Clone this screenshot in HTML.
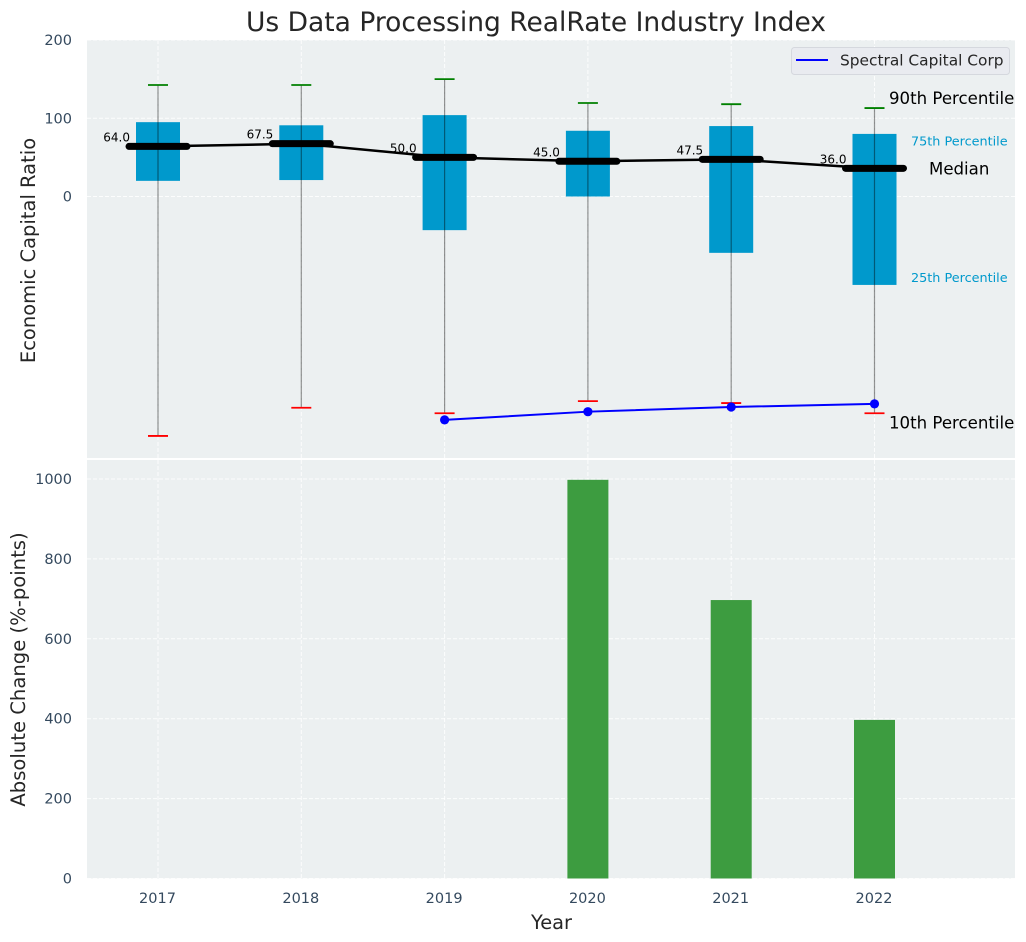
<!DOCTYPE html>
<html>
<head>
<meta charset="utf-8">
<title>Us Data Processing RealRate Industry Index</title>
<style>
html,body{margin:0;padding:0;background:#fff;width:1026px;height:942px;overflow:hidden}
svg{display:block}
text{font-family:"DejaVu Sans","Liberation Sans",sans-serif}
</style>
</head>
<body>
<svg id="chart" xmlns="http://www.w3.org/2000/svg" width="1026" height="942" viewBox="0 0 1026 942"></svg>
<script>
const years = [2017, 2018, 2019, 2020, 2021, 2022];
const p90 = [142.5, 142.5, 150, 119.5, 118, 113];
const p75 = [95, 91, 104, 84, 90, 80];
const medians = [64, 67.5, 50, 45, 47.5, 36];
const p25 = [20, 21, -43, 0, -72, -113];
const p10 = [-306, -270, -277, -261.5, -264, -277];
const companyYears = [2019, 2020, 2021, 2022];
const companyValues = [-285.5, -275, -269, -265];
const changeYears = [2020, 2021, 2022];
const changeValues = [998, 697, 397];
const topTicks = [0, 100, 200];
const bottomTicks = [0, 200, 400, 600, 800, 1000];

const NS = 'http://www.w3.org/2000/svg';
const svg = document.getElementById('chart');
const L = 87, R = 1015, T1 = 40, B1 = 458, T2 = 460, B2 = 878.5;
const x = v => 158 + (v - 2017) * 143.3;
const yTop = v => 196.5 - v * 0.7825;
const yBot = v => 878.5 - v * 0.3995;

function make(tag, attrs, txt) {
  const e = document.createElementNS(NS, tag);
  for (const k in attrs) e.setAttribute(k, attrs[k]);
  if (txt !== undefined) e.textContent = txt;
  svg.appendChild(e);
  return e;
}
function named(e, name, inter) {
  
  
  return e;
}
const GRID = {stroke: '#ffffff', 'stroke-width': 1, 'stroke-dasharray': '4 2', 'stroke-opacity': 0.85};
const TICK = '#34495e';
const TICK_SIZE = 14.5;

named(make('rect', {x: L, y: T1, width: R - L, height: B1 - T1, fill: '#ecf0f1'}), 'top-panel-background');
named(make('rect', {x: L, y: T2, width: R - L, height: B2 - T2, fill: '#ecf0f1'}), 'bottom-panel-background');

topTicks.forEach(t => {
  const g = make('line', Object.assign({x1: L, x2: R, y1: yTop(t), y2: yTop(t)}, GRID));
  named(g, 'top-grid-line-' + t);
  const l = make('text', {x: 72, y: yTop(t) + 5, 'text-anchor': 'end', 'font-size': TICK_SIZE, fill: TICK}, String(t));
  named(l, 'top-y-tick-' + t);
});
bottomTicks.forEach(t => {
  const g = make('line', Object.assign({x1: L, x2: R, y1: yBot(t), y2: yBot(t)}, GRID));
  named(g, 'bottom-grid-line-' + t);
  const l = make('text', {x: 72, y: yBot(t) + 5, 'text-anchor': 'end', 'font-size': TICK_SIZE, fill: TICK}, String(t));
  named(l, 'bottom-y-tick-' + t);
});
years.forEach(yr => {
  const a = make('line', Object.assign({x1: x(yr), x2: x(yr), y1: T1, y2: B1}, GRID));
  named(a, 'top-grid-vertical-' + yr);
  const b = make('line', Object.assign({x1: x(yr), x2: x(yr), y1: T2, y2: B2}, GRID));
  named(b, 'bottom-grid-vertical-' + yr);
  const l = make('text', {x: x(yr) - 0.5, y: 903, 'text-anchor': 'middle', 'font-size': TICK_SIZE, fill: TICK}, String(yr));
  named(l, 'x-tick-' + yr);
});

/* boxes */
years.forEach((yr, i) => {
  const b = make('rect', {x: x(yr) - 22, y: yTop(p75[i]), width: 44, height: yTop(p25[i]) - yTop(p75[i]), fill: '#0099cc'});
  named(b, 'box-' + yr);
});
/* whiskers */
years.forEach((yr, i) => {
  const w = make('line', {x1: x(yr), x2: x(yr), y1: yTop(p90[i]), y2: yTop(p10[i]), stroke: '#000', 'stroke-opacity': 0.42, 'stroke-width': 1.2});
  named(w, 'whisker-' + yr);
});
/* median connecting line */
const medianLine = make('polyline', {points: years.map((yr, i) => x(yr) + ',' + yTop(medians[i])).join(' '), fill: 'none', stroke: '#000', 'stroke-width': 2.5});
named(medianLine, 'median-line');
years.forEach((yr, i) => {
  const m = make('line', {x1: x(yr) - 29, x2: x(yr) + 29, y1: yTop(medians[i]), y2: yTop(medians[i]), stroke: '#000', 'stroke-width': 7, 'stroke-linecap': 'round'});
  named(m, 'median-bar-' + yr);
  const l = make('text', {x: x(yr) - 28, y: yTop(medians[i]) - 5, 'text-anchor': 'end', 'font-size': 12, fill: '#000'}, medians[i].toFixed(1));
  named(l, 'median-label-' + yr);
});
/* caps */
years.forEach((yr, i) => {
  const hi = make('line', {x1: x(yr) - 10, x2: x(yr) + 10, y1: yTop(p90[i]), y2: yTop(p90[i]), stroke: '#008000', 'stroke-width': 1.8});
  named(hi, 'cap-90th-' + yr);
  const lo = make('line', {x1: x(yr) - 10, x2: x(yr) + 10, y1: yTop(p10[i]), y2: yTop(p10[i]), stroke: '#ff0000', 'stroke-width': 1.8});
  named(lo, 'cap-10th-' + yr);
});
/* company line */
const companyLine = make('polyline', {points: companyYears.map((yr, i) => x(yr) + ',' + yTop(companyValues[i])).join(' '), fill: 'none', stroke: '#0000ff', 'stroke-width': 2});
named(companyLine, 'company-line');
companyYears.forEach((yr, i) => {
  const c = make('circle', {cx: x(yr), cy: yTop(companyValues[i]), r: 4.6, fill: '#0000ff'});
  named(c, 'company-point-' + yr);
});
/* bars */
changeYears.forEach((yr, i) => {
  const b = make('rect', {x: x(yr) - 20.5, y: yBot(changeValues[i]), width: 41, height: yBot(0) - yBot(changeValues[i]), fill: '#3d9c40'});
  named(b, 'change-bar-' + yr);
});

/* annotations tied to last year */
const n = years.length - 1;
named(make('text', {x: 889, y: yTop(p90[n]) - 4, 'font-size': 16.6, fill: '#000'}, '90th Percentile'), 'annotation-90th');
named(make('text', {x: 911, y: yTop(p75[n]) + 11.5, 'font-size': 12.8, fill: '#0099cc'}, '75th Percentile'), 'annotation-75th');
named(make('text', {x: 929, y: yTop(medians[n]) + 6, 'font-size': 16.6, fill: '#000'}, 'Median'), 'annotation-median');
named(make('text', {x: 911, y: yTop(p25[n]) - 3, 'font-size': 12.8, fill: '#0099cc'}, '25th Percentile'), 'annotation-25th');
named(make('text', {x: 889, y: yTop(p10[n]) + 15, 'font-size': 16.6, fill: '#000'}, '10th Percentile'), 'annotation-10th');

/* legend */
named(make('rect', {x: 791.5, y: 47.5, width: 218, height: 27, rx: 3, fill: '#e9ebf0', stroke: '#d5d8de', 'stroke-width': 1}), 'legend-box');
named(make('line', {x1: 796, x2: 828, y1: 60, y2: 60, stroke: '#0000ff', 'stroke-width': 2}), 'legend-line');
named(make('text', {x: 840, y: 65.5, 'font-size': 15.4, fill: '#262626'}, 'Spectral Capital Corp'), 'legend-label');

/* titles */
named(make('text', {x: 536, y: 31, 'text-anchor': 'middle', 'font-size': 26.5, fill: '#262626'}, 'Us Data Processing RealRate Industry Index'), 'chart-title');
named(make('text', {x: 551.5, y: 929, 'text-anchor': 'middle', 'font-size': 19.4, fill: '#262626'}, 'Year'), 'x-axis-title');
named(make('text', {transform: 'translate(35,250.5) rotate(-90)', 'text-anchor': 'middle', 'font-size': 19.5, fill: '#262626'}, 'Economic Capital Ratio'), 'top-y-axis-title');
named(make('text', {transform: 'translate(25,669.5) rotate(-90)', 'text-anchor': 'middle', 'font-size': 19.6, fill: '#262626'}, 'Absolute Change (%-points)'), 'bottom-y-axis-title');
</script>
</body>
</html>
